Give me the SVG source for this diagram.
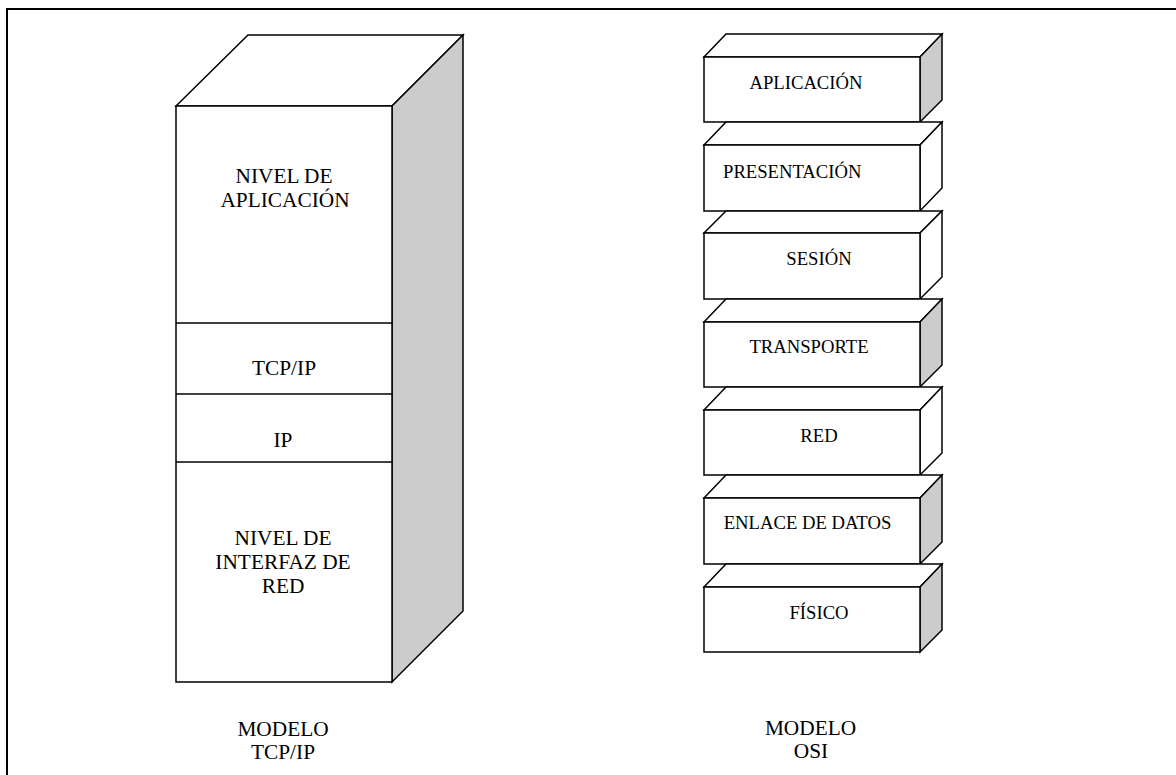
<svg xmlns="http://www.w3.org/2000/svg" width="1176" height="775" viewBox="0 0 1176 775">
<style>
.ln{fill:#fff;stroke:#000;stroke-width:1.5;stroke-linejoin:miter}
.sh{fill:#cccccc;stroke:#000;stroke-width:1.5}
.wh{fill:#fff;stroke:#000;stroke-width:1.5}
text{font-family:'Liberation Serif','Times New Roman',Times,serif;fill:#000}
.big{font-size:21.33px}
.sm{font-size:18.67px}
</style>
<rect x="0" y="0" width="1176" height="775" fill="#fff"/>
<rect id="frame" x="7" y="9" width="1200" height="800" fill="none" stroke="#000" stroke-width="2"/>

<g id="tcpip-model">
  <polygon class="wh" points="176,106 248,35 463,35 392,106"/>
  <polygon class="sh" points="392,106 463,35 463,611 392,682"/>
  <rect class="wh" x="176" y="106" width="216" height="576"/>
  <line class="ln" x1="176" y1="323" x2="392" y2="323"/>
  <line class="ln" x1="176" y1="394" x2="392" y2="394"/>
  <line class="ln" x1="176" y1="462" x2="392" y2="462"/>
</g>
<g id="tcp-aplicacion" font-family="Liberation Serif, serif">
  <text class="big" x="284" y="183" text-anchor="middle">NIVEL DE</text>
  <text class="big" x="285" y="207" text-anchor="middle">APLICACIÓN</text>
</g>
<g id="tcp-tcpip">
  <text class="big" x="284" y="375" text-anchor="middle">TCP/IP</text>
</g>
<g id="tcp-ip">
  <text class="big" x="283" y="447" text-anchor="middle">IP</text>
</g>
<g id="tcp-interfaz">
  <text class="big" x="283" y="545" text-anchor="middle">NIVEL DE</text>
  <text class="big" x="283" y="569" text-anchor="middle">INTERFAZ DE</text>
  <text class="big" x="283" y="593" text-anchor="middle">RED</text>
</g>
<g id="label-tcpip">
  <text class="big" x="283" y="736" text-anchor="middle">MODELO</text>
  <text class="big" x="283" y="759" text-anchor="middle">TCP/IP</text>
</g>

<g id="osi-aplicacion">
  <polygon class="wh" points="704,57 726,34 942,34 920,57"/>
  <polygon class="sh" points="920,57 942,34 942,100 920,122"/>
  <rect class="wh" x="704" y="57" width="216" height="65"/>
  <text class="sm" x="806" y="89" text-anchor="middle">APLICACIÓN</text>
</g>
<g id="osi-presentacion">
  <polygon class="wh" points="704,145 726,122 942,122 920,145"/>
  <polygon class="wh" points="920,145 942,122 942,188 920,211"/>
  <rect class="wh" x="704" y="145" width="216" height="66"/>
  <text class="sm" x="723" y="178">PRESENTACIÓN</text>
</g>
<g id="osi-sesion">
  <polygon class="wh" points="704,233 726,211 942,211 920,233"/>
  <polygon class="wh" points="920,233 942,211 942,277 920,299"/>
  <rect class="wh" x="704" y="233" width="216" height="66"/>
  <text class="sm" x="819" y="265" text-anchor="middle">SESIÓN</text>
</g>
<g id="osi-transporte">
  <polygon class="wh" points="704,322 726,299 942,299 920,322"/>
  <polygon class="sh" points="920,322 942,299 942,365 920,387"/>
  <rect class="wh" x="704" y="322" width="216" height="65"/>
  <text class="sm" x="809" y="353" text-anchor="middle">TRANSPORTE</text>
</g>
<g id="osi-red">
  <polygon class="wh" points="704,410 726,387 942,387 920,410"/>
  <polygon class="wh" points="920,410 942,387 942,453 920,475"/>
  <rect class="wh" x="704" y="410" width="216" height="65"/>
  <text class="sm" x="819" y="442" text-anchor="middle">RED</text>
</g>
<g id="osi-enlace">
  <polygon class="wh" points="704,498 726,475 942,475 920,498"/>
  <polygon class="sh" points="920,498 942,475 942,542 920,564"/>
  <rect class="wh" x="704" y="498" width="216" height="66"/>
  <text class="sm" x="807.5" y="529" text-anchor="middle">ENLACE DE DATOS</text>
</g>
<g id="osi-fisico">
  <polygon class="wh" points="704,587 726,564 942,564 920,587"/>
  <polygon class="sh" points="920,587 942,564 942,630 920,652"/>
  <rect class="wh" x="704" y="587" width="216" height="65"/>
  <text class="sm" x="819" y="619" text-anchor="middle">FÍSICO</text>
</g>
<g id="label-osi">
  <text class="big" x="810.5" y="735" text-anchor="middle">MODELO</text>
  <text class="big" x="811" y="758" text-anchor="middle">OSI</text>
</g>
<g id="connectors"></g>
</svg>
